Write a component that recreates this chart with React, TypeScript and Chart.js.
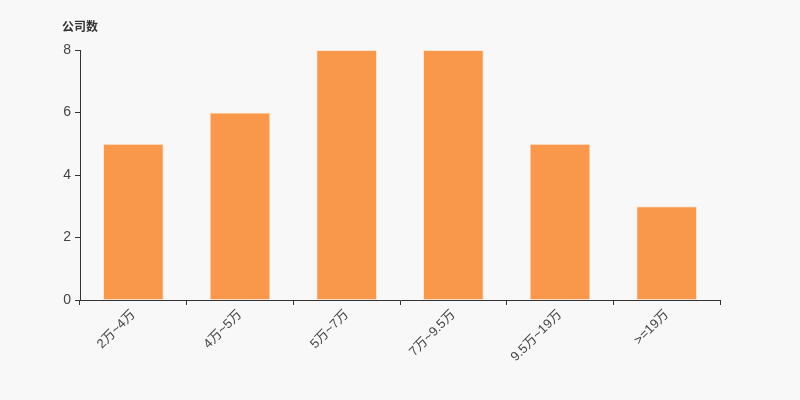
import React, { useEffect, useRef } from "react";
import { Chart, registerables } from "chart.js";

Chart.register(...registerables);

const categories = ["2万~4万", "4万~5万", "5万~7万", "7万~9.5万", "9.5万~19万", ">=19万"];
const companyCounts = [5, 6, 8, 8, 5, 3];
const yTicks = [0, 2, 4, 6, 8];

const FONT = "'Liberation Sans', 'Noto Sans CJK SC', sans-serif";

export default function App() {
  const ref = useRef<HTMLCanvasElement | null>(null);
  useEffect(() => {
    if (!ref.current) return;
    const titlePlugin = {
      id: "yTitle",
      afterDraw(chart: any) {
        const ctx = chart.ctx;
        ctx.save();
        ctx.fillStyle = "#333";
        ctx.font = `bold 12px ${FONT}`;
        ctx.textBaseline = "middle";
        ctx.textAlign = "left";
        ctx.fillText("公司数", 62, 28);
        ctx.restore();
      },
    };
    const bg = {
      id: "bg",
      beforeDraw(chart: any) {
        const ctx = chart.ctx;
        ctx.save();
        ctx.fillStyle = "#f8f8f8";
        ctx.fillRect(0, 0, chart.width, chart.height);
        ctx.restore();
      },
    };
    const chart = new Chart(ref.current, {
      type: "bar",
      data: {
        labels: categories,
        datasets: [
          {
            data: companyCounts,
            backgroundColor: "#f9984a",
            borderColor: "rgba(255,230,210,0.9)",
            borderWidth: 1,
            barPercentage: 0.57,
            categoryPercentage: 1,
          },
        ],
      },
      options: {
        responsive: false,
        animation: false,
        layout: { padding: { left: 0, right: 80, top: 50, bottom: 0 } },
        plugins: { legend: { display: false }, tooltip: { enabled: false } },
        scales: {
          x: {
            offset: true,
            grid: { offset: true, drawOnChartArea: false, drawTicks: true, tickLength: 5, color: "#333" },
            border: { color: "#333", width: 1 },
            ticks: {
              color: "#444",
              font: { family: FONT, size: 13 },
              maxRotation: 45,
              minRotation: 45,
              autoSkip: false,
              padding: 2,
            },
            afterFit(scale: any) {
              scale.height = 100;
            },
          },
          y: {
            min: 0,
            max: 8,
            afterBuildTicks(scale: any) {
              scale.ticks = yTicks.map((v) => ({ value: v }));
            },
            grid: { drawOnChartArea: false, drawTicks: true, tickLength: 5, color: "#333" },
            border: { color: "#333", width: 1 },
            ticks: { color: "#444", font: { family: FONT, size: 14 }, padding: 4 },
            afterFit(scale: any) {
              scale.width = 80;
            },
          },
        },
      },
      plugins: [bg, titlePlugin],
    });
    return () => chart.destroy();
  }, []);
  return (
    <div style={{ position: "absolute", left: 0, top: 0, width: 800, height: 400 }}>
      <canvas ref={ref} width={800} height={400} style={{ width: 800, height: 400 }} />
    </div>
  );
}
